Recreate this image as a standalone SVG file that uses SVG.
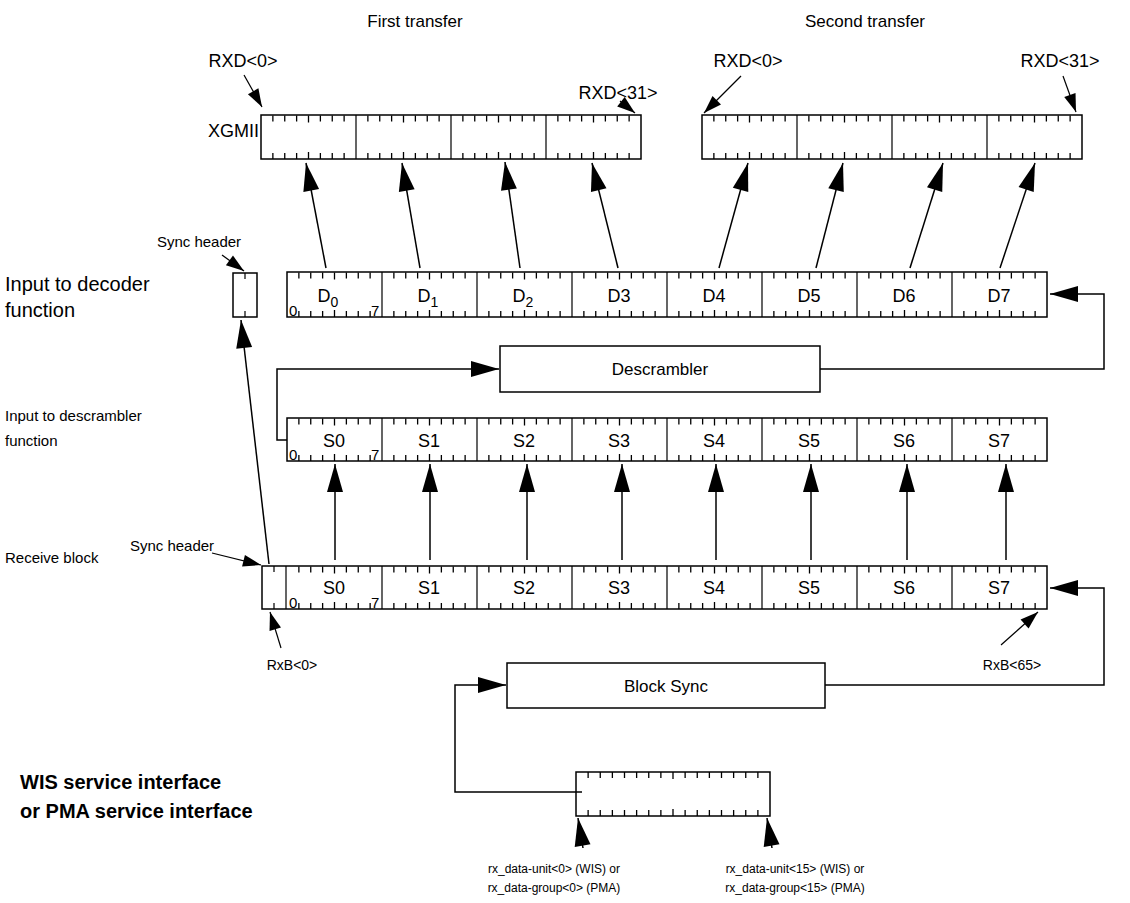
<svg xmlns="http://www.w3.org/2000/svg" width="1130" height="903" viewBox="0 0 1130 903">
<style>
text{font-family:"Liberation Sans",Arial,sans-serif;fill:#000}
.box{fill:none;stroke:#000;stroke-width:1.5}
.div{stroke:#000;stroke-width:1.2;fill:none}
.tk{stroke:#000;stroke-width:1.3;fill:none}
.ar{stroke:#000;stroke-width:1.5;fill:none;marker-end:url(#big)}
.sa{stroke:#000;stroke-width:1.2;fill:none;marker-end:url(#sm)}
.lbl{font-size:18px;text-anchor:middle}
.bit{font-size:15px}
.side{font-size:15px}
</style>
<defs>
<marker id="big" markerUnits="userSpaceOnUse" markerWidth="30" markerHeight="18" refX="28" refY="8" orient="auto" overflow="visible">
<path d="M0,0 L28,8 L0,16 Z" fill="#000"/>
</marker>
<marker id="sm" markerUnits="userSpaceOnUse" markerWidth="20" markerHeight="14" refX="18" refY="6" orient="auto" overflow="visible">
<path d="M0,0 L18,6 L0,12 Z" fill="#000"/>
</marker>
<path id="t8" class="tk" d="M298.875,0V6M310.75,0V6M322.625,0V6M334.5,0V7M346.375,0V6M358.25,0V6M370.125,0V6M393.875,0V6M405.75,0V6M417.625,0V6M429.5,0V7M441.375,0V6M453.25,0V6M465.125,0V6M488.875,0V6M500.75,0V6M512.625,0V6M524.5,0V7M536.375,0V6M548.25,0V6M560.125,0V6M583.875,0V6M595.75,0V6M607.625,0V6M619.5,0V7M631.375,0V6M643.25,0V6M655.125,0V6M678.875,0V6M690.75,0V6M702.625,0V6M714.5,0V7M726.375,0V6M738.25,0V6M750.125,0V6M773.875,0V6M785.75,0V6M797.625,0V6M809.5,0V7M821.375,0V6M833.25,0V6M845.125,0V6M868.875,0V6M880.75,0V6M892.625,0V6M904.5,0V7M916.375,0V6M928.25,0V6M940.125,0V6M963.875,0V6M975.75,0V6M987.625,0V6M999.5,0V7M1011.375,0V6M1023.25,0V6M1035.125,0V6"/>
<path id="b8" class="tk" d="M298.875,0V-6M310.75,0V-6M322.625,0V-6M334.5,0V-7M346.375,0V-6M358.25,0V-6M370.125,0V-6M393.875,0V-6M405.75,0V-6M417.625,0V-6M429.5,0V-7M441.375,0V-6M453.25,0V-6M465.125,0V-6M488.875,0V-6M500.75,0V-6M512.625,0V-6M524.5,0V-7M536.375,0V-6M548.25,0V-6M560.125,0V-6M583.875,0V-6M595.75,0V-6M607.625,0V-6M619.5,0V-7M631.375,0V-6M643.25,0V-6M655.125,0V-6M678.875,0V-6M690.75,0V-6M702.625,0V-6M714.5,0V-7M726.375,0V-6M738.25,0V-6M750.125,0V-6M773.875,0V-6M785.75,0V-6M797.625,0V-6M809.5,0V-7M821.375,0V-6M833.25,0V-6M845.125,0V-6M868.875,0V-6M880.75,0V-6M892.625,0V-6M904.5,0V-7M916.375,0V-6M928.25,0V-6M940.125,0V-6M963.875,0V-6M975.75,0V-6M987.625,0V-6M999.5,0V-7M1011.375,0V-6M1023.25,0V-6M1035.125,0V-6"/>
<path id="t4" class="tk" d="M11.875,0V6M23.75,0V6M35.625,0V6M47.5,0V7M59.375,0V6M71.25,0V6M83.125,0V6M106.875,0V6M118.75,0V6M130.625,0V6M142.5,0V7M154.375,0V6M166.25,0V6M178.125,0V6M201.875,0V6M213.75,0V6M225.625,0V6M237.5,0V7M249.375,0V6M261.25,0V6M273.125,0V6M296.875,0V6M308.75,0V6M320.625,0V6M332.5,0V7M344.375,0V6M356.25,0V6M368.125,0V6"/>
<path id="b4" class="tk" d="M11.875,0V-6M23.75,0V-6M35.625,0V-6M47.5,0V-7M59.375,0V-6M71.25,0V-6M83.125,0V-6M106.875,0V-6M118.75,0V-6M130.625,0V-6M142.5,0V-7M154.375,0V-6M166.25,0V-6M178.125,0V-6M201.875,0V-6M213.75,0V-6M225.625,0V-6M237.5,0V-7M249.375,0V-6M261.25,0V-6M273.125,0V-6M296.875,0V-6M308.75,0V-6M320.625,0V-6M332.5,0V-7M344.375,0V-6M356.25,0V-6M368.125,0V-6"/>
</defs>

<text x="415" y="27" font-size="17" text-anchor="middle">First transfer</text>
<text x="865" y="27" font-size="17" text-anchor="middle">Second transfer</text>
<text x="208" y="137" font-size="18">XGMII</text>

<g id="xgmii1">
<rect class="box" x="261" y="115" width="380" height="44"/>
<path class="div" d="M356,115V159M451,115V159M546,115V159"/>
<use href="#t4" x="261" y="115.5"/>
<use href="#b4" x="261" y="159"/>
</g>
<g id="xgmii2">
<rect class="box" x="702" y="115" width="380" height="44"/>
<path class="div" d="M797,115V159M892,115V159M987,115V159"/>
<use href="#t4" x="702" y="115.5"/>
<use href="#b4" x="702" y="159"/>
</g>

<g id="rxd-labels">
<text x="243" y="67" class="lbl">RXD&lt;0&gt;</text>
<text x="618" y="99" class="lbl">RXD&lt;31&gt;</text>
<text x="748" y="67" class="lbl">RXD&lt;0&gt;</text>
<text x="1060" y="67" class="lbl">RXD&lt;31&gt;</text>
</g>

<g id="sync-decoder">
<text x="199" y="247" class="side" text-anchor="middle">Sync header</text>
<rect class="box" x="233" y="273" width="24" height="44"/>
<path class="div" d="M245,273V279M245,311V317"/>
</g>
<text x="5" y="291" font-size="20">Input to decoder</text>
<text x="5" y="317" font-size="20">function</text>

<g id="decoder-row">
<rect class="box" x="287" y="272" width="760" height="45"/>
<path class="div" d="M382,272V317M477,272V317M572,272V317M667,272V317M762,272V317M857,272V317M952,272V317"/>
<use href="#t8" y="272.5"/>
<use href="#b8" y="317"/>
<text x="289" y="316" class="bit">0</text>
<text x="371" y="316" class="bit">7</text>
<text x="328" y="302" class="lbl">D<tspan font-size="14" dy="5">0</tspan></text>
<text x="428" y="302" class="lbl">D<tspan font-size="14" dy="5">1</tspan></text>
<text x="523" y="302" class="lbl">D<tspan font-size="14" dy="5">2</tspan></text>
<text x="619" y="302" class="lbl">D3</text>
<text x="714" y="302" class="lbl">D4</text>
<text x="809" y="302" class="lbl">D5</text>
<text x="904" y="302" class="lbl">D6</text>
<text x="999" y="302" class="lbl">D7</text>
</g>

<g id="descrambler">
<rect class="box" x="500" y="346" width="320" height="46"/>
<text x="660" y="375" font-size="17" text-anchor="middle">Descrambler</text>
</g>

<text x="5" y="421" font-size="15">Input to descrambler</text>
<text x="5" y="446" font-size="15">function</text>

<g id="descrambler-row">
<rect class="box" x="287" y="418" width="760" height="43"/>
<path class="div" d="M382,418V461M477,418V461M572,418V461M667,418V461M762,418V461M857,418V461M952,418V461"/>
<use href="#t8" y="418.5"/>
<use href="#b8" y="461"/>
<text x="289" y="460" class="bit">0</text>
<text x="371" y="460" class="bit">7</text>
<text x="334" y="447" class="lbl">S0</text>
<text x="429" y="447" class="lbl">S1</text>
<text x="524" y="447" class="lbl">S2</text>
<text x="619" y="447" class="lbl">S3</text>
<text x="714" y="447" class="lbl">S4</text>
<text x="809" y="447" class="lbl">S5</text>
<text x="904" y="447" class="lbl">S6</text>
<text x="999" y="447" class="lbl">S7</text>
</g>

<text x="172" y="551" class="side" text-anchor="middle">Sync header</text>
<text x="5" y="563" font-size="15">Receive block</text>

<g id="receive-block">
<rect class="box" x="262" y="566" width="785" height="43"/>
<path class="div" d="M286,566V609M382,566V609M477,566V609M572,566V609M667,566V609M762,566V609M857,566V609M952,566V609"/>
<path class="div" d="M274,566V572M274,603V609"/>
<use href="#t8" y="566.5"/>
<use href="#b8" y="609"/>
<text x="289" y="608" class="bit">0</text>
<text x="371" y="608" class="bit">7</text>
<text x="334" y="594" class="lbl">S0</text>
<text x="429" y="594" class="lbl">S1</text>
<text x="524" y="594" class="lbl">S2</text>
<text x="619" y="594" class="lbl">S3</text>
<text x="714" y="594" class="lbl">S4</text>
<text x="809" y="594" class="lbl">S5</text>
<text x="904" y="594" class="lbl">S6</text>
<text x="999" y="594" class="lbl">S7</text>
</g>
<text x="292" y="670" font-size="14" text-anchor="middle">RxB&lt;0&gt;</text>
<text x="1012" y="670" font-size="14" text-anchor="middle">RxB&lt;65&gt;</text>

<g id="block-sync">
<rect class="box" x="507" y="663" width="318" height="45"/>
<text x="666" y="692" font-size="17" text-anchor="middle">Block Sync</text>
</g>

<text x="20" y="789" font-size="20" font-weight="bold">WIS service interface</text>
<text x="20" y="818" font-size="20" font-weight="bold">or PMA service interface</text>

<g id="pma-box">
<rect class="box" x="576" y="772" width="194" height="44"/>
<path class="tk" d="M588.125,772v6m12.125,-6v6m12.125,-6v6m12.125,-6v6m12.125,-6v6m12.125,-6v6m12.125,-6v6m12.125,-6v7m12.125,-7v6m12.125,-6v6m12.125,-6v6m12.125,-6v6m12.125,-6v6m12.125,-6v6m12.125,-6v6"/>
<path class="tk" d="M588.125,816v-6m12.125,6v-6m12.125,6v-6m12.125,6v-6m12.125,6v-6m12.125,6v-6m12.125,6v-6m12.125,6v-7m12.125,7v-6m12.125,6v-6m12.125,6v-6m12.125,6v-6m12.125,6v-6m12.125,6v-6m12.125,6v-6"/>
</g>
<g id="pma-labels">
<text x="554" y="873" font-size="12" text-anchor="middle">rx_data-unit&lt;0&gt; (WIS) or</text>
<text x="554" y="892" font-size="12" text-anchor="middle">rx_data-group&lt;0&gt; (PMA)</text>
<text x="795" y="873" font-size="12" text-anchor="middle">rx_data-unit&lt;15&gt; (WIS) or</text>
<text x="795" y="892" font-size="12" text-anchor="middle">rx_data-group&lt;15&gt; (PMA)</text>
</g>

<g id="connectors">
<line class="ar" x1="326" y1="268" x2="306" y2="163"/>
<line class="ar" x1="420" y1="268" x2="402" y2="163"/>
<line class="ar" x1="520" y1="268" x2="505" y2="162"/>
<line class="ar" x1="618" y1="268" x2="592" y2="163"/>
<line class="ar" x1="719" y1="268" x2="748" y2="163"/>
<line class="ar" x1="816" y1="268" x2="843" y2="163"/>
<line class="ar" x1="910" y1="268" x2="943" y2="163"/>
<line class="ar" x1="1000" y1="268" x2="1035" y2="163"/>
<line class="ar" x1="335" y1="560" x2="335" y2="464"/>
<line class="ar" x1="430" y1="560" x2="430" y2="464"/>
<line class="ar" x1="527" y1="560" x2="527" y2="464"/>
<line class="ar" x1="622" y1="560" x2="622" y2="464"/>
<line class="ar" x1="716" y1="560" x2="716" y2="464"/>
<line class="ar" x1="811" y1="560" x2="811" y2="464"/>
<line class="ar" x1="907" y1="560" x2="907" y2="464"/>
<line class="ar" x1="1006" y1="560" x2="1006" y2="464"/>
<line class="ar" x1="269" y1="564" x2="241" y2="320"/>
<polyline class="ar" points="820,369 1104,369 1104,294 1050,294"/>
<polyline class="ar" points="287,440 277,440 277,369 499,369"/>
<polyline class="ar" points="825,685 1104,685 1104,588 1050,588"/>
<polyline class="ar" points="582,792 455,792 455,685 506,685"/>
<line class="sa" x1="244" y1="75" x2="262" y2="107"/>
<line class="sa" x1="620" y1="101" x2="635" y2="113"/>
<line class="sa" x1="741" y1="76" x2="704" y2="113"/>
<line class="sa" x1="1063" y1="76" x2="1076" y2="112"/>
<line class="sa" x1="222" y1="255" x2="244" y2="271"/>
<line class="sa" x1="212" y1="553" x2="261" y2="565"/>
<line class="sa" x1="281" y1="648" x2="270" y2="612"/>
<line class="sa" x1="1001" y1="645" x2="1038" y2="612"/>
<line class="ar" x1="583" y1="848" x2="578" y2="818"/>
<line class="ar" x1="772" y1="848" x2="767" y2="818"/>
</g>
</svg>
